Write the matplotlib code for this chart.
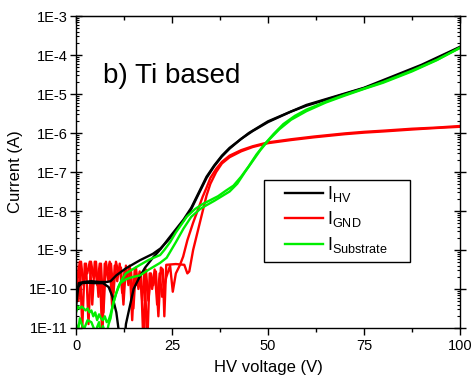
import numpy as np
import matplotlib
matplotlib.use('Agg')
import matplotlib.pyplot as plt
from matplotlib.patches import Rectangle
from matplotlib.ticker import LogLocator, FuncFormatter, MultipleLocator, NullFormatter

plt.rcParams['font.family'] = ['Liberation Sans', 'DejaVu Sans']
plt.rcParams['mathtext.fontset'] = 'custom'
plt.rcParams['mathtext.rm'] = 'Liberation Sans'

# values, currents kept as log10(A)
# I_HV, two sweeps
hv_v1 = [0, 0.7, 2, 4, 6, 8, 9, 10.5, 13, 16.7, 20, 22, 24, 26, 28, 30, 32, 34, 36, 38, 40,
         43, 46, 50, 56, 60, 65, 70, 75, 80, 87.5, 93, 100]
hv_i1 = [-10.45, -9.85, -9.82, -9.8, -9.82, -9.82, -9.8, -9.65, -9.47, -9.26, -9.1, -8.96, -8.75,
         -8.5, -8.25, -7.95, -7.55, -7.15, -6.85, -6.6, -6.4, -6.15, -5.95, -5.72, -5.45, -5.3,
         -5.15, -5.0, -4.85, -4.68, -4.38, -4.15, -3.8]
hv_v2 = [0, 0.5, 1.5, 3, 5, 7, 8.5, 9.5, 10.5, 11.3, 11.8, 12.4, 13, 14, 15, 16.5, 18, 20, 22,
         24, 26, 28, 30, 32, 34, 36, 38, 40, 45, 50, 60, 75, 90, 100]
hv_i2 = [-10.2, -9.95, -9.85, -9.84, -9.85, -9.85, -9.95, -10.2, -10.6, -11.2, -11.6, -11.6,
         -10.9, -10.45, -10.0, -9.7, -9.45, -9.2, -8.98, -8.72, -8.47, -8.22, -7.92, -7.52,
         -7.12, -6.83, -6.58, -6.38, -6.0, -5.7, -5.28, -4.84, -4.25, -3.79]

# I_GND, two sweeps (noisy below 23 V)
gnd_v1 = [0, 0.65, 1.3, 1.95, 2.6, 3.25, 3.9, 4.55, 5.2, 5.85, 6.5, 7.15, 7.8, 8.45, 9.1, 9.75,
          10.4, 11.05, 11.7, 12.35, 13, 13.65, 14.3, 14.95, 15.6, 16.25, 16.9, 17.55, 18.2,
          18.85, 19.5, 20.15, 20.8, 21.45, 22.1, 22.6, 23, 23.5, 26, 28.2, 29, 29.5, 30.5, 31.5,
          33, 34, 35, 36.5, 38, 40, 43, 46, 50, 56, 62, 70, 75, 80, 87.5, 94, 100]
gnd_i1 = [-9.3, -10.3, -9.3, -9.9, -9.35, -10.9, -9.3, -9.7, -9.3, -10.2, -9.35, -10.6, -9.3,
          -9.8, -9.35, -10.1, -9.3, -9.6, -9.45, -10.4, -9.4, -9.9, -9.5, -10.5, -9.45, -10.0,
          -9.6, -11.4, -9.5, -10.3, -9.6, -9.9, -9.55, -10.7, -9.45, -9.5, -10.7, -9.38, -9.36,
          -9.38, -9.6, -9.55, -9.0, -8.6, -8.0, -7.6, -7.3, -7.0, -6.78, -6.62, -6.47, -6.36,
          -6.26, -6.18, -6.11, -6.03, -5.99, -5.96, -5.91, -5.87, -5.84]
gnd_v2 = [0.33, 0.98, 1.63, 2.28, 2.93, 3.58, 4.23, 4.88, 5.53, 6.18, 6.83, 7.48, 8.13, 8.78,
          9.43, 10.08, 10.73, 11.38, 12.03, 12.68, 13.33, 13.98, 14.63, 15.28, 15.93, 16.58,
          17.23, 17.88, 18.53, 19.18, 19.83, 20.48, 21.13, 21.78, 22.43, 23.5, 24.5, 25.2, 26,
          27, 27.9, 29, 30.5, 32, 33, 34, 35, 36.5, 38, 40, 43, 46, 50, 56, 62, 70, 75, 80, 87.5,
          94, 100]
gnd_i2 = [-9.8, -9.3, -11.0, -9.35, -9.6, -9.3, -10.4, -9.3, -9.9, -9.35, -11.3, -9.35, -9.6,
          -9.3, -10.5, -9.4, -9.8, -9.35, -10.1, -9.5, -9.7, -9.4, -10.8, -9.5, -9.9, -9.55,
          -10.3, -9.5, -11.5, -9.6, -10.0, -9.5, -10.4, -9.6, -10.2, -9.7, -9.4, -10.07, -9.6,
          -9.4, -9.17, -8.75, -8.3, -7.9, -7.63, -7.4, -7.15, -6.92, -6.74, -6.58, -6.44, -6.34,
          -6.24, -6.16, -6.09, -6.01, -5.97, -5.94, -5.89, -5.86, -5.82]

# I_Substrate, two sweeps
sub_v1 = [0, 0.5, 1, 1.5, 2, 2.5, 3, 3.5, 4, 4.5, 5, 5.5, 6, 6.5, 7, 7.5, 8, 8.5, 9, 9.5, 10,
          11, 12, 13, 15, 16.7, 19, 21.9, 23, 24.5, 26, 28.8, 31, 33, 35, 37, 39, 41, 43, 45, 47,
          49, 51.5, 54, 57, 60, 65, 70, 75, 80, 87.5, 94, 100]
sub_i1 = [-10.6, -10.45, -10.5, -10.45, -10.5, -10.55, -10.5, -10.6, -10.55, -10.7, -10.6,
          -10.8, -10.65, -10.75, -10.8, -10.7, -10.85, -10.8, -10.65, -10.45, -10.25, -9.95,
          -9.75, -9.6, -9.48, -9.38, -9.25, -9.13, -9.0, -8.8, -8.55, -8.15, -7.95, -7.82, -7.72,
          -7.62, -7.48, -7.35, -7.12, -6.85, -6.55, -6.3, -6.02, -5.77, -5.56, -5.4, -5.2, -5.02,
          -4.86, -4.69, -4.4, -4.12, -3.82]
sub_v2 = [0, 0.5, 1, 1.5, 2, 3, 4, 5, 6, 6.5, 7, 7.5, 8, 8.5, 9, 9.5, 10.5, 11.5, 13, 14.5,
          16.7, 19, 21.9, 23.6, 26, 28, 30, 32.3, 34, 36, 38, 40, 42, 44, 46, 48, 50, 53, 56, 60,
          65, 70, 75, 80, 87.5, 94, 100]
sub_i2 = [-10.9, -11.1, -10.75, -10.9, -11.05, -10.8, -10.85, -11.1, -10.85, -11.2, -10.95,
          -11.1, -11.15, -10.9, -10.75, -10.45, -10.1, -9.85, -9.75, -9.7, -9.65, -9.5, -9.33,
          -9.2, -8.8, -8.45, -8.15, -7.95, -7.85, -7.74, -7.62, -7.5, -7.3, -7.0, -6.72, -6.44,
          -6.2, -5.9, -5.66, -5.44, -5.22, -5.04, -4.87, -4.71, -4.42, -4.13, -3.81]

fig = plt.figure(figsize=(4.71, 3.82), dpi=100)
ax = fig.add_axes([0.1614, 0.1414, 0.8152, 0.8166])

lw = 1.7
ax.plot(gnd_v1, 10.0 ** np.array(gnd_i1), color='#ff0000', lw=lw)
ax.plot(gnd_v2, 10.0 ** np.array(gnd_i2), color='#ff0000', lw=lw)
ax.plot(hv_v1, 10.0 ** np.array(hv_i1), color='black', lw=lw)
ax.plot(hv_v2, 10.0 ** np.array(hv_i2), color='black', lw=lw)
ax.plot(sub_v1, 10.0 ** np.array(sub_i1), color='#00ee00', lw=lw)
ax.plot(sub_v2, 10.0 ** np.array(sub_i2), color='#00ee00', lw=lw)

# legend handles only
h_hv, = ax.plot([], [], color='black', lw=lw, label=r'$\mathrm{I_{HV}}$')
h_gnd, = ax.plot([], [], color='#ff0000', lw=lw, label=r'$\mathrm{I_{GND}}$')
h_sub, = ax.plot([], [], color='#00ee00', lw=lw, label=r'$\mathrm{I_{Substrate}}$')

ax.set_yscale('log')
ax.set_xlim(0, 100)
ax.set_ylim(1e-11, 1e-3)

ax.xaxis.set_major_locator(MultipleLocator(25))
ax.xaxis.set_minor_locator(MultipleLocator(12.5))
ax.yaxis.set_major_locator(LogLocator(base=10, numticks=20))
ax.yaxis.set_minor_locator(LogLocator(base=10, subs=np.arange(2, 10), numticks=20))
ax.yaxis.set_minor_formatter(NullFormatter())
ax.yaxis.set_major_formatter(FuncFormatter(lambda v, p: '1E%d' % round(np.log10(v))))

ax.tick_params(axis='x', which='major', direction='out', length=5, width=1, labelsize=10.5,
               top=False, pad=3)
ax.tick_params(axis='x', which='minor', direction='out', length=3, width=1, top=False)
ax.tick_params(axis='y', which='major', direction='inout', length=8, width=1, labelsize=10.5,
               right=True, pad=2)
ax.tick_params(axis='y', which='minor', direction='in', length=2.5, width=0.8, right=True)

top = ax.secondary_xaxis('top')
top.xaxis.set_major_locator(MultipleLocator(25))
top.xaxis.set_minor_locator(MultipleLocator(12.5))
top.tick_params(which='major', direction='in', length=5, width=1, labeltop=False)
top.tick_params(which='minor', direction='in', length=3, width=1)

for s in ax.spines.values():
    s.set_linewidth(1)

ax.set_xlabel('HV voltage (V)', fontsize=12, labelpad=5)
ax.set_ylabel('Current (A)', fontsize=12, labelpad=4)

ax.text(0.07, 0.785, 'b) Ti based', transform=ax.transAxes, fontsize=20, va='baseline')

# legend box drawn separately so it can be wider than its entries
ax.add_patch(Rectangle((0.49, 0.21), 0.38, 0.264, transform=ax.transAxes, fill=True,
                       facecolor='white', edgecolor='black', lw=1, zorder=4))
leg = ax.legend(handles=[h_hv, h_gnd, h_sub], loc='center left', bbox_to_anchor=(0.545, 0.348),
                fontsize=13, frameon=False, handlelength=2.1, borderpad=0,
                labelspacing=0.3, handletextpad=0.2, borderaxespad=0)
leg.set_zorder(5)

fig.savefig('out.png', dpi=100)
